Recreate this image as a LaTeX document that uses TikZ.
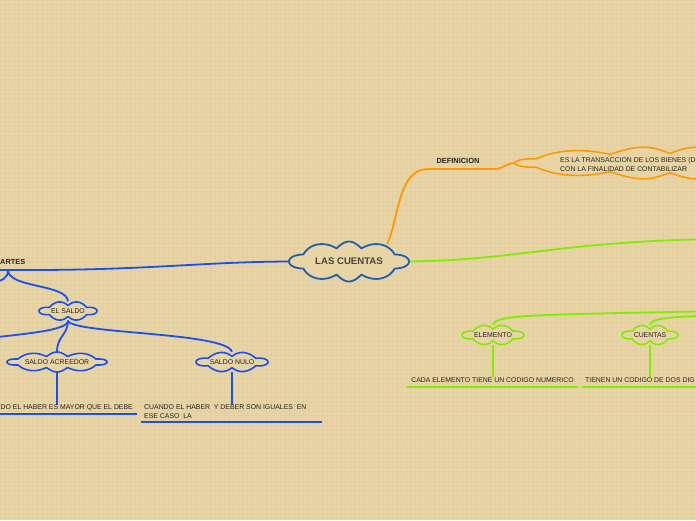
\documentclass[tikz,border=0pt]{standalone}
\usepackage{fontspec}
\setmainfont{Liberation Sans}
\definecolor{bg}{RGB}{233,212,166}
\definecolor{gridc}{RGB}{228,207,160}
\definecolor{txt}{RGB}{40,36,30}
\definecolor{roottxt}{RGB}{70,66,60}
\definecolor{rootblue}{RGB}{30,95,175}
\definecolor{blu}{RGB}{25,80,240}
\definecolor{grn}{RGB}{128,238,0}
\definecolor{org}{RGB}{255,153,0}
\pgfdeclarelayer{back}
\pgfdeclarelayer{edges}
\pgfsetlayers{back,edges,main}
% #1 name, #2 cx, #3 cy, #4 width, #5 height, #6 puffs, #7 outline style, #8 text style, #9 text
\newcommand\mycloud[9]{%
  \pgfmathsetmacro\chh{min(6.5,#5/4.6)}%
  \pgfmathsetmacro\ca{#4/2-\chh}%
  \pgfmathsetmacro\cb{#5/2-\chh}%
  \pgfmathsetmacro\ck{min(0.45,(\ca/\cb-1)/(\ca/\cb+1))*28.65}%
  \pgfmathsetmacro\cph{180/#6}%
  \pgfmathsetmacro\cend{360+180/#6}%
  \pgfmathtruncatemacro\csamp{24*#6+1}%
  \draw[#7, fill=bg, line join=round] plot[domain=\cph:\cend, samples=\csamp]
    ({#2+(\ca+\chh*abs(sin(#6*(\x-\cph)/2)))*cos(\x+\ck*sin(2*\x))},
     {#3+(\cb+\chh*abs(sin(#6*(\x-\cph)/2)))*sin(\x+\ck*sin(2*\x))}) -- cycle;
  \node[#8, inner sep=0pt, minimum width=#4pt, minimum height=#5pt] (#1) at (#2,#3) {#9};}
\begin{document}
\begin{tikzpicture}[x=1pt,y=-1pt,
  lbl/.style={font=\fontsize{6.9}{8.5}\selectfont, text=txt, inner sep=0pt},
  blbl/.style={font=\fontsize{7.4}{9}\selectfont\bfseries, text=txt, inner sep=0pt},
  ctext/.style={font=\fontsize{6.9}{8.5}\selectfont, text=txt},
  rtext/.style={font=\fontsize{9.6}{11}\selectfont\bfseries, text=roottxt},
  bcl/.style={draw=blu, line width=1.6pt},
  gcl/.style={draw=grn, line width=1.6pt},
  ocl/.style={draw=org, line width=1.6pt},
  rcl/.style={draw=rootblue, line width=1.8pt},
  bline/.style={draw=blu, line width=1.8pt},
  gline/.style={draw=grn, line width=1.8pt},
  oline/.style={draw=org, line width=1.8pt}]
\useasboundingbox (0,0) rectangle (696,520);
\clip (0,0) rectangle (696,520);
\begin{pgfonlayer}{back}
\fill[bg] (0,0) rectangle (696,520);
\draw[gridc, line width=0.4pt, step=4.67pt] (0,0) grid (696,520);
\end{pgfonlayer}

% root
\mycloud{root}{349}{261.5}{120}{40}{8}{rcl}{rtext}{LAS CUENTAS}

% orange branch
\node[blbl] (def) at (458,161) {DEFINICION};
\coordinate (dl) at (428,169);
\coordinate (dr) at (494,169);
\mycloud{defc}{670}{163}{310}{32}{10}{ocl}{ctext}{}
\node[lbl, anchor=west, align=left] (deft) at (560,164.5) {ES LA TRANSACCION DE LOS BIENES (D\\CON LA FINALIDAD DE CONTABILIZAR};

% green branch
\coordinate (gr) at (720,239);
\mycloud{elem}{493}{335}{62}{20}{6}{gcl}{ctext}{ELEMENTO}
\mycloud{cuen}{650}{335}{56}{20}{6}{gcl}{ctext}{CUENTAS}
\coordinate (g2) at (720,311);
\coordinate (g3) at (720,315.5);
\node[lbl] (t1) at (492.5,380) {CADA ELEMENTO TIENE UN CODIGO NUMERICO};
\node[lbl, anchor=west] (t2) at (585,380) {TIENEN UN CODIGO DE DOS DIG};
\coordinate (u1a) at (407,387); \coordinate (u1b) at (578,387);
\coordinate (u2a) at (582,387); \coordinate (u2b) at (720,387);

% blue branch
\node[blbl, anchor=west] (part) at (0,262) {ARTES};
\coordinate (bl) at (-10,270);
\coordinate (pj) at (8,270);
\coordinate (pl) at (-10,283);
\coordinate (sl) at (-10,338);
\mycloud{saldo}{68}{311}{58}{19}{6}{bcl}{ctext}{EL SALDO}
\mycloud{acre}{57}{362}{100}{20}{8}{bcl}{ctext}{SALDO ACREEDOR}
\mycloud{nulo}{232}{362}{72}{20}{6}{bcl}{ctext}{SALDO NULO}
\node[lbl, anchor=east] (t3) at (133,408) {DO EL HABER ES MAYOR QUE EL DEBE};
\node[lbl, anchor=north west, align=left] (t4) at (144,404.5) {CUANDO EL HABER\ \ Y DEBER SON IGUALES\ \ EN\\ESE CASO\ \ LA};
\coordinate (u3a) at (-10,414); \coordinate (u3b) at (137,414);
\coordinate (u4a) at (141,422); \coordinate (u4b) at (322,422);

\begin{pgfonlayer}{edges}
\draw[oline] ([xshift=-22pt,yshift=-3pt]root.north east) .. controls (399,218) and (398,169) .. (dl) -- (dr) .. controls (504,169) and (506,163) .. (defc.west);
\draw[gline] (root.east) .. controls (520,260) and (560,241) .. (gr);
\draw[gline] (elem.north) .. controls (494,316) and (530,315) .. (620,313) -- (g2);
\draw[gline] (cuen.north) .. controls (651,319) and (665,316.5) .. (g3);
\draw[gline] (u1a) -- (u1b);
\draw[gline] (u2a) -- (u2b);
\draw[gline] (elem.south) -- (elem.south |- t1.north);
\draw[gline] (cuen.south) -- (cuen.south |- t2.north);
\draw[bline] (root.west) .. controls (200,262) and (150,270) .. (30,270) -- (bl);
\draw[bline] (pj) .. controls (8,288) and (67,284) .. (saldo.north);
\draw[bline] (pj) .. controls (8,278) and (3,281) .. (pl);
\draw[bline] (saldo.south) .. controls (68,331) and (20,334) .. (sl);
\draw[bline] (saldo.south) .. controls (68,335) and (57,336) .. (acre.north);
\draw[bline] (saldo.south) .. controls (72,334) and (226,332) .. (nulo.north);
\draw[bline] (u3a) -- (u3b);
\draw[bline] (u4a) -- (u4b);
\draw[bline] (acre.south) -- (acre.south |- t3.north);
\draw[bline] (nulo.south) -- (nulo.south |- t4.north);
\end{pgfonlayer}
\end{tikzpicture}
\end{document}
